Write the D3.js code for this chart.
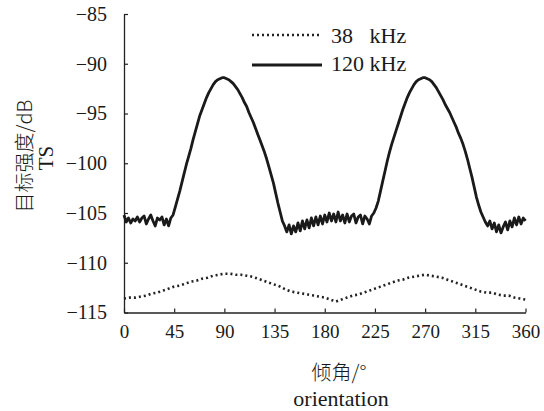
<!DOCTYPE html>
<html>
<head>
<meta charset="utf-8">
<script src="https://cdn.jsdelivr.net/npm/d3@7"></script>
<style>
html,body{margin:0;padding:0;background:#fff;}
svg{display:block;}
svg text{font-family:"Liberation Serif","DejaVu Serif","Times New Roman",Times,serif !important;fill:#1a1a1a;}
svg text.cjk{font-family:"Noto Sans CJK SC","Noto Sans CJK JP",sans-serif !important;font-weight:300;}
</style>
</head>
<body>
<svg id="chart" width="544" height="411"></svg>
<script>
// ---- data ----
const xTicks = [0, 45, 90, 135, 180, 225, 270, 315, 360];
const yTicks = [-85, -90, -95, -100, -105, -110, -115];
const seriesNames = ["38   kHz", "120 kHz"];

const angles120 = d3.range(0, 361, 2);
const ts120 = [
 -105.2,-105.9,-105.5,-106.0,-105.6,-105.8,-105.4,-105.9,-105.5,-105.3,
 -106.1,-105.6,-105.2,-105.8,-106.3,-105.5,-105.7,-105.4,-106.2,-105.6,
 -106.3,-105.5,-105.2,
 -104.4,-103.6,-102.8,-101.9,-101.0,-100.1,-99.3,-98.5,-97.6,-96.8,
 -96.0,-95.2,-94.6,-94.0,-93.4,-92.9,-92.5,-92.1,-91.8,-91.6,
 -91.5,-91.4,-91.4,-91.5,-91.6,-91.8,-92.0,-92.3,-92.6,-93.0,
 -93.4,-93.9,-94.3,-94.9,-95.4,-95.9,-96.5,-97.1,-97.7,-98.3,
 -98.9,-99.6,-100.4,-101.2,-102.0,-103.0,-104.0,-104.9,-105.8,-106.3,
 -106.9,-106.2,-107.1,-106.3,-106.9,-106.0,-106.8,-105.8,-106.6,-105.7,
 -106.5,-105.5,-106.3,-105.4,-106.2,-105.3,-106.1,-105.2,-105.9,-105.0,
 -105.8,-105.1,-105.9,-104.9,-105.8,-105.2,-106.0,-105.1,-105.9,-105.3,
 -105.1,-106.0,-105.4,-105.2,-106.1,-105.3,-105.6,-106.1,-105.3,-105.0,
 -104.5,
 -103.8,-102.8,-101.8,-100.8,-99.8,-98.9,-98.1,-97.4,-96.7,-96.0,
 -95.3,-94.6,-94.0,-93.4,-92.9,-92.5,-92.1,-91.8,-91.6,-91.5,
 -91.4,-91.4,-91.5,-91.6,-91.8,-92.1,-92.4,-92.8,-93.2,-93.6,
 -94.1,-94.5,-94.9,-95.4,-95.9,-96.4,-97.0,-97.5,-98.1,-98.8,
 -99.6,-100.5,-101.4,-102.4,-103.4,-104.2,-104.9,-105.4,-105.9,-106.3,
 -105.8,-106.6,-106.0,-106.9,-106.2,-107.0,-106.4,-105.9,-106.7,-105.8,
 -106.4,-105.5,-106.2,-105.4,-106.1,-105.5,-105.8
];

const angles38 = d3.range(0, 361, 5);
const ts38 = [
 -113.6,-113.5,-113.5,-113.4,-113.3,-113.1,-113.0,-112.8,-112.6,-112.4,
 -112.3,-112.1,-111.9,-111.8,-111.6,-111.5,-111.3,-111.2,-111.1,-111.1,
 -111.2,-111.2,-111.3,-111.4,-111.6,-111.8,-112.0,-112.2,-112.4,-112.7,
 -112.9,-113.0,-113.1,-113.2,-113.3,-113.4,-113.5,-113.7,-113.9,-113.7,
 -113.5,-113.3,-113.2,-113.0,-112.8,-112.6,-112.4,-112.2,-112.0,-111.8,
 -111.7,-111.5,-111.4,-111.3,-111.2,-111.3,-111.4,-111.5,-111.7,-111.9,
 -112.1,-112.3,-112.5,-112.7,-112.9,-113.0,-113.0,-113.2,-113.3,-113.3,
 -113.5,-113.6,-113.7
];

// ---- layout ----
const svg = d3.select("#chart");
const x = d3.scaleLinear().domain([0, 360]).range([124, 525.5]);
const y = d3.scaleLinear().domain([-115, -85]).range([312.5, 14]);

const xAxis = d3.axisBottom(x).tickValues(xTicks).tickSize(-4).tickSizeOuter(0).tickPadding(12);
const yAxis = d3.axisLeft(y).tickValues(yTicks).tickSize(-4).tickSizeOuter(0).tickPadding(17)
  .tickFormat(d => String(d).replace("-", "\u2212"));

const gx = svg.append("g").attr("transform", `translate(0,${y(-115)})`).call(xAxis);
const gy = svg.append("g").attr("transform", `translate(${x(0)},0)`).call(yAxis);
[gx, gy].forEach(g => {
  g.attr("font-family", null).attr("font-size", null);
  g.select(".domain").attr("stroke", "#222").attr("stroke-width", 1.3);
  g.selectAll(".tick line").attr("stroke", "#222").attr("stroke-width", 1.2);
  g.selectAll(".tick text").attr("fill", "#1a1a1a");
});
gx.selectAll(".tick text").attr("font-size", 19).attr("dy", "0.71em");
gy.selectAll(".tick text").attr("font-size", 20);

// lines
const line = d3.line().x(d => x(d[0])).y(d => y(d[1]));
svg.append("path")
  .datum(angles38.map((a, i) => [a, ts38[i]]))
  .attr("d", line).attr("fill", "none").attr("stroke", "#222")
  .attr("stroke-width", 2.6).attr("stroke-dasharray", "2,3");
svg.append("path")
  .datum(angles120.map((a, i) => [a, ts120[i]]))
  .attr("d", line).attr("fill", "none").attr("stroke", "#1a1a1a")
  .attr("stroke-width", 2.8).attr("stroke-linejoin", "round");

// legend
const lg = svg.append("g");
lg.append("line").attr("x1", 252).attr("x2", 320).attr("y1", 35).attr("y2", 35)
  .attr("stroke", "#222").attr("stroke-width", 2.6).attr("stroke-dasharray", "2,3");
lg.append("line").attr("x1", 252).attr("x2", 322).attr("y1", 65).attr("y2", 65)
  .attr("stroke", "#1a1a1a").attr("stroke-width", 2.8);
lg.append("text").attr("x", 331).attr("y", 43).attr("font-size", 22)
  .style("white-space", "pre").text(seriesNames[0]);
lg.append("text").attr("x", 331).attr("y", 71).attr("font-size", 22)
  .style("white-space", "pre").text(seriesNames[1]);

// axis titles
svg.append("text").attr("class", "cjk").attr("font-size", 20)
  .attr("transform", "translate(32,156) rotate(-90)").attr("text-anchor", "middle")
  .text("目标强度/dB");
svg.append("text").attr("font-size", 21)
  .attr("transform", "translate(53,158) rotate(-90)").attr("text-anchor", "middle")
  .text("TS");
svg.append("text").attr("class", "cjk").attr("font-size", 20)
  .attr("x", 339).attr("y", 380).attr("text-anchor", "middle").text("倾角/°");
svg.append("text").attr("font-size", 22)
  .attr("x", 341).attr("y", 406).attr("text-anchor", "middle").text("orientation");
</script>
</body>
</html>
